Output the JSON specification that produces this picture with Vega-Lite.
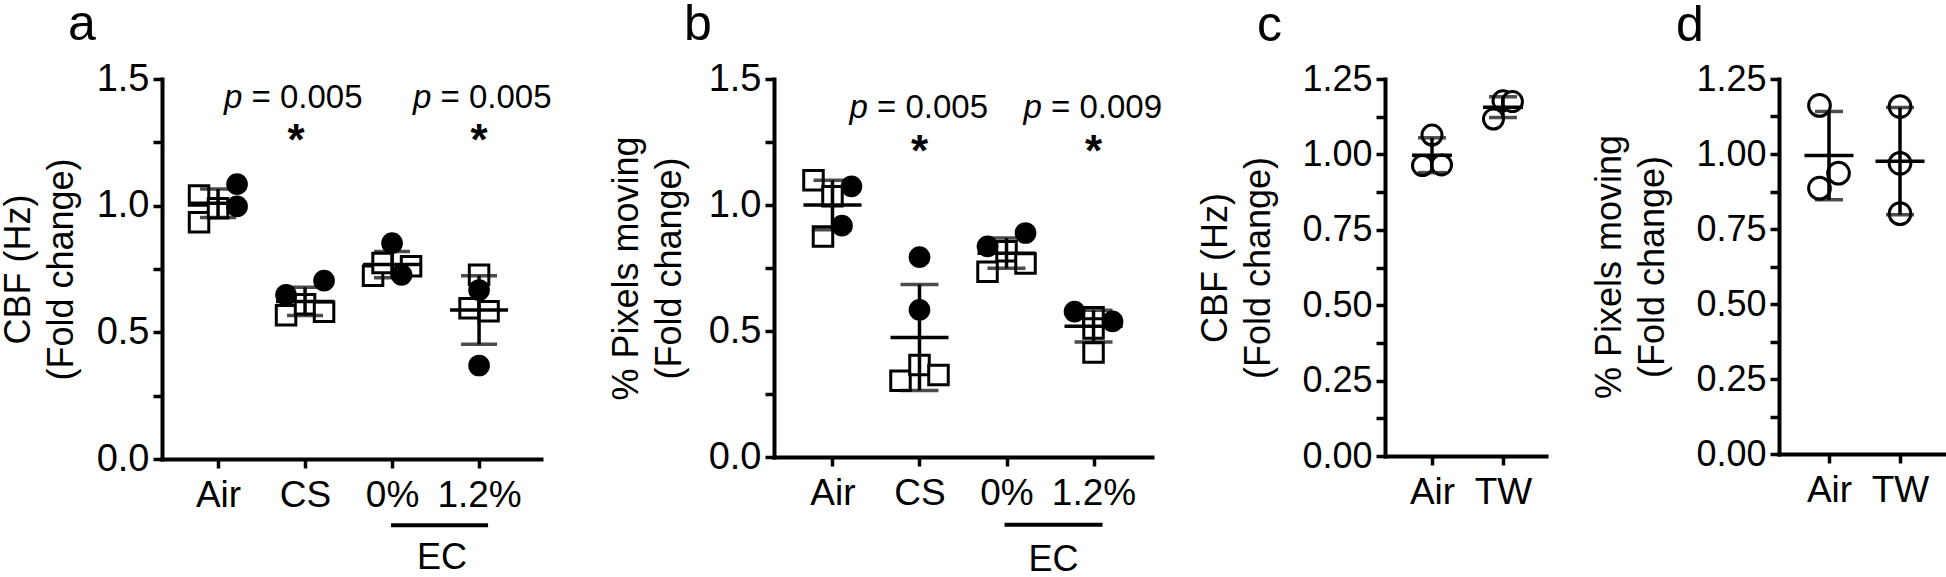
{
  "$schema": "https://vega.github.io/schema/vega-lite/v6.json",
  "padding": 0,
  "background": "white",
  "spacing": 233,
  "bounds": "flush",
  "config": {
    "view": {"stroke": null},
    "font": "Liberation Sans",
    "axis": {
      "domainColor": "black", "domainWidth": 4, "domainCap": "square",
      "tickColor": "black", "tickWidth": 3.5, "tickSize": 9,
      "labelColor": "black", "labelFont": "Liberation Sans",
      "titleFont": "Liberation Sans", "titleColor": "black", "titleFontWeight": "normal",
      "titleFontSize": 36, "titleLineHeight": 43,
      "grid": false, "labelFlush": false, "labelOverlap": false, "labelBound": false
    },
    "axisX": {"labelAngle": 0, "labelFontSize": 37, "labelPadding": 9},
    "axisY": {"labelFontSize": 38, "labelPadding": 4, "titlePadding": 16},
    "title": {"font": "Liberation Sans", "fontSize": 50, "fontWeight": "normal", "anchor": "start", "frame": "group", "color": "black", "baseline": "alphabetic", "offset": 10}
  },
  "hconcat": [
    {
      "width": 379, "height": 380,
      "title": {"text": "a", "dx": -94},
      "data": {"values": [
        {"group": "Air", "set": "sq", "slot": -2, "value": 1.04},
        {"group": "Air", "set": "sq", "slot": -2, "value": 0.935},
        {"group": "Air", "set": "sq", "slot": 0, "value": 0.99},
        {"group": "Air", "set": "ci", "slot": 2, "value": 1.085},
        {"group": "Air", "set": "ci", "slot": 2, "value": 0.997},
        {"group": "CS", "set": "ci", "slot": -2, "value": 0.648},
        {"group": "CS", "set": "ci", "slot": 2, "value": 0.704},
        {"group": "CS", "set": "sq", "slot": -2, "value": 0.567},
        {"group": "CS", "set": "sq", "slot": 0, "value": 0.611},
        {"group": "CS", "set": "sq", "slot": 2, "value": 0.581},
        {"group": "0%", "set": "ci", "slot": 0, "value": 0.852},
        {"group": "0%", "set": "ci", "slot": 1, "value": 0.727},
        {"group": "0%", "set": "sq", "slot": -2, "value": 0.723},
        {"group": "0%", "set": "sq", "slot": -1, "value": 0.774},
        {"group": "0%", "set": "sq", "slot": 2, "value": 0.761},
        {"group": "1.2%", "set": "sq", "slot": 0, "value": 0.727},
        {"group": "1.2%", "set": "ci", "slot": 0, "value": 0.667},
        {"group": "1.2%", "set": "sq", "slot": -1, "value": 0.595},
        {"group": "1.2%", "set": "sq", "slot": 1, "value": 0.583},
        {"group": "1.2%", "set": "ci", "slot": 0, "value": 0.369}
      ]},
      "encoding": {
        "x": {"field": "group", "type": "nominal", "scale": {"type": "point", "domain": ["Air", "CS", "0%", "1.2%"], "padding": 0.678, "align": 0.475}, "axis": {"title": null}}
      },
      "layer": [
        {"transform": [{"filter": "datum.set === 'sq'"}],
         "mark": {"type": "point", "shape": "square", "filled": true, "fill": "white", "stroke": "black", "strokeWidth": 3, "size": 380, "opacity": 1},
         "encoding": {"y": {"field": "value", "type": "quantitative"},
                      "xOffset": {"field": "slot", "type": "quantitative", "scale": {"domain": [-2, 2], "range": [-19, 19]}}}},
        {"transform": [{"filter": "datum.set === 'ci'"}],
         "mark": {"type": "point", "shape": "circle", "filled": true, "fill": "black", "size": 470, "opacity": 1},
         "encoding": {"y": {"field": "value", "type": "quantitative"},
                      "xOffset": {"field": "slot", "type": "quantitative", "scale": {"domain": [-2, 2], "range": [-19, 19]}}}},
        {"mark": {"type": "errorbar", "extent": "stdev", "ticks": {"size": 36, "thickness": 3.5, "color": "black"}, "rule": {"strokeWidth": 3.5, "color": "black"}},
         "encoding": {"y": {"field": "value", "type": "quantitative", "scale": {"domain": [0, 1.5], "nice": false}, "title": ["CBF (Hz)", "(Fold change)"],
                            "axis": {"values": [0, 0.25, 0.5, 0.75, 1, 1.25, 1.5], "labelExpr": "datum.value % 0.5 === 0 ? format(datum.value, '.1f') : ''"}}}},
        {"mark": {"type": "tick", "size": 58, "thickness": 3.5, "color": "black", "opacity": 1},
         "encoding": {"y": {"aggregate": "mean", "field": "value", "type": "quantitative"}}},
        {"data": {"values": [{"group": "CS", "p": "= 0.005"}]},
         "mark": {"type": "text", "text": "p", "fontStyle": "italic", "fontSize": 33, "align": "left", "baseline": "alphabetic", "dx": -81, "color": "black"},
         "encoding": {"y": {"datum": 1.385, "type": "quantitative"}}},
        {"data": {"values": [{"group": "CS", "p": "= 0.005"}]},
         "mark": {"type": "text", "fontSize": 33, "align": "left", "baseline": "alphabetic", "dx": -53.5, "color": "black"},
         "encoding": {"y": {"datum": 1.385, "type": "quantitative"}, "text": {"field": "p"}}},
        {"data": {"values": [{"group": "1.2%", "p": "= 0.005"}]},
         "mark": {"type": "text", "text": "p", "fontStyle": "italic", "fontSize": 33, "align": "left", "baseline": "alphabetic", "dx": -66, "color": "black"},
         "encoding": {"y": {"datum": 1.385, "type": "quantitative"}}},
        {"data": {"values": [{"group": "1.2%", "p": "= 0.005"}]},
         "mark": {"type": "text", "fontSize": 33, "align": "left", "baseline": "alphabetic", "dx": -38.5, "color": "black"},
         "encoding": {"y": {"datum": 1.385, "type": "quantitative"}, "text": {"field": "p"}}},
        {"data": {"values": [{"group": "CS", "sig": "*"}]},
         "mark": {"type": "text", "fontSize": 44, "fontWeight": "bold", "align": "center", "baseline": "alphabetic", "dy": 25, "dx": -9, "color": "black"},
         "encoding": {"y": {"datum": 1.30, "type": "quantitative"}, "text": {"field": "sig"}}},
        {"data": {"values": [{"group": "1.2%", "sig": "*"}]},
         "mark": {"type": "text", "fontSize": 44, "fontWeight": "bold", "align": "center", "baseline": "alphabetic", "dy": 25, "color": "black"},
         "encoding": {"y": {"datum": 1.30, "type": "quantitative"}, "text": {"field": "sig"}}},
        {"data": {"values": [{"group": "0%", "to": "1.2%", "label": "EC"}]},
         "mark": {"type": "rule", "strokeWidth": 4, "color": "black", "clip": false, "xOffset": -1, "x2Offset": 9},
         "encoding": {"x2": {"field": "to"}, "y": {"datum": -0.262, "type": "quantitative"}}},
        {"data": {"values": [{"group": "0%", "to": "1.2%", "label": "EC"}]},
         "mark": {"type": "text", "fontSize": 36, "align": "center", "baseline": "middle", "dx": 50, "color": "black"},
         "encoding": {"y": {"datum": -0.389, "type": "quantitative"}, "text": {"field": "label"}}}
      ]
    },
    {
      "width": 378, "height": 378,
      "title": {"text": "b", "dx": -90},
      "data": {"values": [
        {"group": "Air", "set": "sq", "slot": -2, "value": 1.098},
        {"group": "Air", "set": "sq", "slot": 0, "value": 1.035},
        {"group": "Air", "set": "sq", "slot": -1, "value": 0.875},
        {"group": "Air", "set": "ci", "slot": 2, "value": 1.074},
        {"group": "Air", "set": "ci", "slot": 1, "value": 0.918},
        {"group": "CS", "set": "ci", "slot": 0, "value": 0.793},
        {"group": "CS", "set": "ci", "slot": 0, "value": 0.584},
        {"group": "CS", "set": "sq", "slot": -2, "value": 0.303},
        {"group": "CS", "set": "sq", "slot": 0, "value": 0.365},
        {"group": "CS", "set": "sq", "slot": 2, "value": 0.325},
        {"group": "0%", "set": "ci", "slot": -2, "value": 0.836},
        {"group": "0%", "set": "ci", "slot": 2, "value": 0.889},
        {"group": "0%", "set": "sq", "slot": -2, "value": 0.735},
        {"group": "0%", "set": "sq", "slot": 0, "value": 0.816},
        {"group": "0%", "set": "sq", "slot": 2, "value": 0.768},
        {"group": "1.2%", "set": "ci", "slot": -2, "value": 0.577},
        {"group": "1.2%", "set": "ci", "slot": 2, "value": 0.538},
        {"group": "1.2%", "set": "sq", "slot": 0, "value": 0.555},
        {"group": "1.2%", "set": "sq", "slot": 0, "value": 0.415},
        {"group": "1.2%", "set": "sq", "slot": 0, "value": 0.51}
      ]},
      "encoding": {
        "x": {"field": "group", "type": "nominal", "scale": {"type": "point", "domain": ["Air", "CS", "0%", "1.2%"], "padding": 0.672, "align": 0.5}, "axis": {"title": null}}
      },
      "layer": [
        {"transform": [{"filter": "datum.set === 'sq'"}],
         "mark": {"type": "point", "shape": "square", "filled": true, "fill": "white", "stroke": "black", "strokeWidth": 3, "size": 380, "opacity": 1},
         "encoding": {"y": {"field": "value", "type": "quantitative"},
                      "xOffset": {"field": "slot", "type": "quantitative", "scale": {"domain": [-2, 2], "range": [-19, 19]}}}},
        {"transform": [{"filter": "datum.set === 'ci'"}],
         "mark": {"type": "point", "shape": "circle", "filled": true, "fill": "black", "size": 470, "opacity": 1},
         "encoding": {"y": {"field": "value", "type": "quantitative"},
                      "xOffset": {"field": "slot", "type": "quantitative", "scale": {"domain": [-2, 2], "range": [-19, 19]}}}},
        {"mark": {"type": "errorbar", "extent": "stdev", "ticks": {"size": 38, "thickness": 3.5, "color": "black"}, "rule": {"strokeWidth": 3.5, "color": "black"}},
         "encoding": {"y": {"field": "value", "type": "quantitative", "scale": {"domain": [0, 1.5], "nice": false}, "title": ["% Pixels moving", "(Fold change)"],
                            "axis": {"titlePadding": 20, "values": [0, 0.25, 0.5, 0.75, 1, 1.25, 1.5], "labelExpr": "datum.value % 0.5 === 0 ? format(datum.value, '.1f') : ''"}}}},
        {"mark": {"type": "tick", "size": 58, "thickness": 3.5, "color": "black", "opacity": 1},
         "encoding": {"y": {"aggregate": "mean", "field": "value", "type": "quantitative"}}},
        {"data": {"values": [{"group": "CS", "p": "= 0.005"}, {"group": "1.2%", "p": "= 0.009"}]},
         "mark": {"type": "text", "text": "p", "fontStyle": "italic", "fontSize": 33, "align": "left", "baseline": "alphabetic", "dx": -70, "color": "black"},
         "encoding": {"y": {"datum": 1.346, "type": "quantitative"}}},
        {"data": {"values": [{"group": "CS", "p": "= 0.005"}, {"group": "1.2%", "p": "= 0.009"}]},
         "mark": {"type": "text", "fontSize": 33, "align": "left", "baseline": "alphabetic", "dx": -42.5, "color": "black"},
         "encoding": {"y": {"datum": 1.346, "type": "quantitative"}, "text": {"field": "p"}}},
        {"data": {"values": [{"group": "CS", "sig": "*"}, {"group": "1.2%", "sig": "*"}]},
         "mark": {"type": "text", "fontSize": 44, "fontWeight": "bold", "align": "center", "baseline": "alphabetic", "dy": 25, "color": "black"},
         "encoding": {"y": {"datum": 1.253, "type": "quantitative"}, "text": {"field": "sig"}}},
        {"data": {"values": [{"group": "0%", "to": "1.2%", "label": "EC"}]},
         "mark": {"type": "rule", "strokeWidth": 4, "color": "black", "clip": false, "xOffset": -2, "x2Offset": 9},
         "encoding": {"x2": {"field": "to"}, "y": {"datum": -0.269, "type": "quantitative"}}},
        {"data": {"values": [{"group": "0%", "to": "1.2%", "label": "EC"}]},
         "mark": {"type": "text", "fontSize": 36, "align": "center", "baseline": "middle", "dx": 47, "color": "black"},
         "encoding": {"y": {"datum": -0.41, "type": "quantitative"}, "text": {"field": "label"}}}
      ]
    },
    {
      "width": 161, "height": 377,
      "title": {"text": "c", "dx": -128},
      "data": {"values": [
        {"group": "Air", "slot": 0, "value": 1.064},
        {"group": "Air", "slot": -1, "value": 0.963},
        {"group": "Air", "slot": 1, "value": 0.965},
        {"group": "TW", "slot": -1, "value": 1.117},
        {"group": "TW", "slot": 0, "value": 1.178},
        {"group": "TW", "slot": 1, "value": 1.175}
      ]},
      "encoding": {
        "x": {"field": "group", "type": "nominal", "scale": {"type": "point", "domain": ["Air", "TW"], "padding": 0.634, "align": 0.522}, "axis": {"title": null}},
        "y": {"field": "value", "type": "quantitative", "scale": {"domain": [0, 1.25], "nice": false},
              "axis": {"title": ["CBF (Hz)", "(Fold change)"], "labelFontSize": 36, "titlePadding": 24, "values": [0, 0.125, 0.25, 0.375, 0.5, 0.625, 0.75, 0.875, 1, 1.125, 1.25], "labelExpr": "datum.value % 0.25 === 0 ? format(datum.value, '.2f') : ''"}}
      },
      "layer": [
        {"mark": {"type": "point", "shape": "circle", "filled": true, "fill": "white", "stroke": "black", "strokeWidth": 3, "size": 400, "opacity": 1},
         "encoding": {"xOffset": {"field": "slot", "type": "quantitative", "scale": {"domain": [-1, 1], "range": [-12.5, 12.5]}}}},
        {"mark": {"type": "errorbar", "extent": "stdev", "ticks": {"size": 28, "thickness": 3.5, "color": "black"}, "rule": {"strokeWidth": 3.5, "color": "black"}}},
        {"mark": {"type": "tick", "size": 40, "thickness": 3.5, "color": "black", "opacity": 1},
         "encoding": {"y": {"aggregate": "mean", "field": "value", "type": "quantitative"}}}
      ]
    },
    {
      "width": 171, "height": 375,
      "title": {"text": "d", "dx": -103},
      "data": {"values": [
        {"group": "Air", "slot": -1, "value": 1.162},
        {"group": "Air", "slot": -1, "value": 0.886},
        {"group": "Air", "slot": 1, "value": 0.936},
        {"group": "TW", "slot": 0, "value": 1.158},
        {"group": "TW", "slot": 0, "value": 0.969},
        {"group": "TW", "slot": 0, "value": 0.801}
      ]},
      "encoding": {
        "x": {"field": "group", "type": "nominal", "scale": {"type": "point", "domain": ["Air", "TW"], "padding": 0.704, "align": 0.5}, "axis": {"title": null}},
        "y": {"field": "value", "type": "quantitative", "scale": {"domain": [0, 1.25], "nice": false},
              "axis": {"title": ["% Pixels moving", "(Fold change)"], "labelFontSize": 36, "titlePadding": 24, "values": [0, 0.125, 0.25, 0.375, 0.5, 0.625, 0.75, 0.875, 1, 1.125, 1.25], "labelExpr": "datum.value % 0.25 === 0 ? format(datum.value, '.2f') : ''"}}
      },
      "layer": [
        {"mark": {"type": "point", "shape": "circle", "filled": true, "fill": "white", "stroke": "black", "strokeWidth": 3, "size": 470, "opacity": 1},
         "encoding": {"xOffset": {"field": "slot", "type": "quantitative", "scale": {"domain": [-1, 1], "range": [-12.5, 12.5]}}}},
        {"mark": {"type": "errorbar", "extent": "stdev", "ticks": {"size": 28, "thickness": 3.5, "color": "black"}, "rule": {"strokeWidth": 3.5, "color": "black"}}},
        {"mark": {"type": "tick", "size": 49, "thickness": 3.5, "color": "black", "opacity": 1},
         "encoding": {"y": {"aggregate": "mean", "field": "value", "type": "quantitative"}}}
      ]
    }
  ]
}
